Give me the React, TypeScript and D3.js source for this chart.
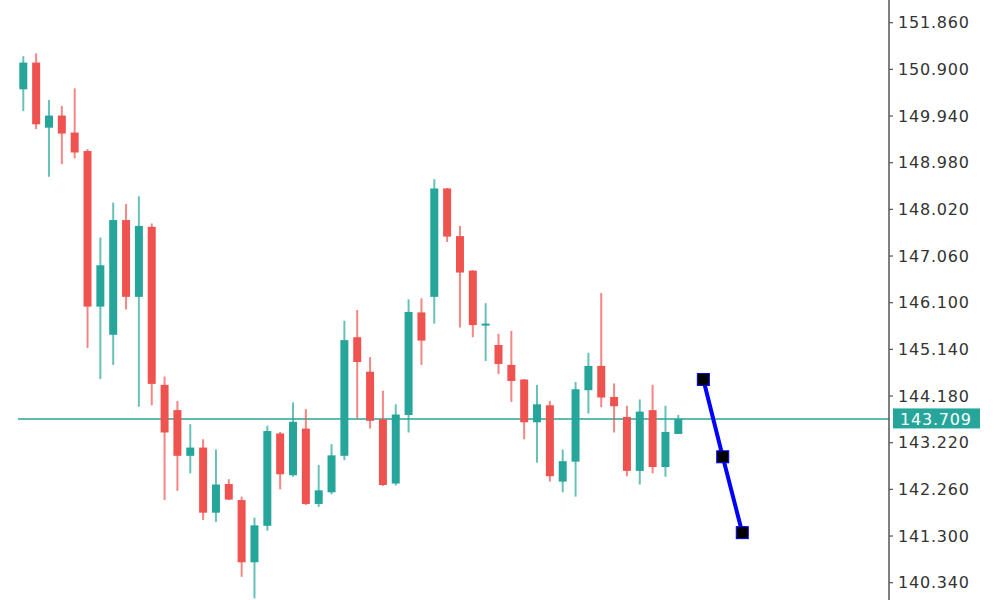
import React from "react";
import * as d3 from "d3";

const opens = [150.49, 151.04, 149.70, 149.95, 149.60, 149.22, 146.02, 145.44, 147.80, 146.22, 147.66, 144.41, 143.89, 142.95, 143.12, 141.78, 142.37, 142.04, 140.76, 141.51, 143.41, 142.55, 143.51, 141.96, 142.20, 142.95, 145.39, 144.68, 143.70, 142.38, 143.79, 145.90, 146.22, 148.45, 147.47, 146.76, 145.63, 145.23, 144.82, 144.52, 143.64, 143.99, 142.42, 142.83, 144.30, 144.80, 144.16, 143.75, 142.64, 143.89, 142.72, 143.40];
const closes = [151.04, 149.77, 149.95, 149.58, 149.19, 146.02, 146.87, 147.80, 146.22, 147.68, 144.43, 143.43, 142.95, 143.12, 141.78, 142.36, 142.05, 140.76, 141.52, 143.46, 142.57, 143.65, 141.96, 142.24, 142.96, 145.33, 144.88, 143.67, 142.35, 143.80, 145.91, 145.32, 148.45, 147.46, 146.72, 145.64, 145.67, 144.84, 144.49, 143.64, 144.01, 142.53, 142.84, 144.32, 144.80, 144.15, 143.97, 142.64, 143.86, 142.72, 143.44, 143.709];
const highs = [151.17, 151.23, 150.27, 150.15, 150.51, 149.26, 147.44, 148.16, 148.13, 148.29, 147.73, 144.58, 144.08, 143.60, 143.29, 143.08, 142.47, 142.11, 141.68, 143.57, 143.44, 144.05, 143.91, 142.76, 143.19, 145.73, 145.95, 144.98, 144.29, 144.01, 146.17, 146.19, 148.64, 148.46, 147.68, 146.77, 146.09, 145.46, 145.52, 144.53, 144.41, 144.08, 143.08, 144.47, 145.07, 146.30, 144.44, 143.98, 144.11, 144.41, 143.98, 143.79];
const lows = [150.04, 149.67, 148.69, 148.95, 149.07, 145.17, 144.53, 144.82, 145.96, 143.96, 143.99, 142.04, 142.23, 142.59, 141.63, 141.59, 142.04, 140.46, 140.02, 141.41, 142.26, 142.52, 141.94, 141.90, 142.16, 142.86, 143.72, 143.51, 142.33, 142.34, 143.43, 144.82, 145.67, 147.35, 145.59, 145.39, 144.90, 144.63, 144.06, 143.29, 142.81, 142.42, 142.20, 142.11, 143.82, 143.95, 143.43, 142.53, 142.36, 142.59, 142.52, 143.40];

const forecastIdx = [52.95, 54.46, 55.98];
const forecastVals = [144.52, 142.93, 141.37];

const tickValues = [151.86, 150.9, 149.94, 148.98, 148.02, 147.06, 146.1, 145.14, 144.18, 143.22, 142.26, 141.3, 140.34];
const lastPrice = 143.709;

const UP = "#26a69a";
const DOWN = "#ef5350";

export default function App() {
  const W = 1000, H = 600;
  const axisX = 889;
  const x = d3.scaleLinear().domain([0, 51]).range([23.3, 678.3]);
  const y = d3.scaleLinear().domain([140.34, 151.86]).range([582.7, 22.7]);
  const bw = 8;
  const line = d3.line<number>().x((_, i) => x(forecastIdx[i])).y((d) => y(d));
  const ly = y(lastPrice);
  return (
    <svg width={W} height={H} style={{ position: "absolute", left: 0, top: 0, background: "#fff" }}
      fontFamily="DejaVu Sans, Verdana, sans-serif">
      <line x1={18} x2={axisX} y1={ly} y2={ly} stroke={UP} strokeWidth={1.5} />
      {opens.map((o, i) => {
        const c = closes[i];
        const up = c >= o;
        const col = up ? UP : DOWN;
        const top = y(Math.max(o, c));
        const bot = y(Math.min(o, c));
        const cx = x(i);
        return (
          <g key={i}>
            <line x1={cx} x2={cx} y1={y(highs[i])} y2={y(lows[i])} stroke={col} strokeOpacity={0.7} strokeWidth={2} />
            <rect x={cx - bw / 2} y={top} width={bw} height={Math.max(2, bot - top)} fill={col} />
          </g>
        );
      })}
      <path d={line(forecastVals) || ""} fill="none" stroke="#0000ff" strokeWidth={4} />
      {forecastVals.map((v, i) => (
        <rect key={i} x={x(forecastIdx[i]) - 6} y={y(v) - 6} width={12} height={12} fill="#000" stroke="#0000ff" strokeWidth={1} />
      ))}
      <line x1={axisX} x2={axisX} y1={0} y2={H} stroke="#555" strokeWidth={1.5} />
      {tickValues.map((t) => (
        <g key={t} transform={`translate(${axisX},${y(t)})`}>
          <line x1={0} x2={4} stroke="#555" strokeWidth={1.2} />
          <text x={9} dy="0.35em" fontSize={16} letterSpacing={0.8} fill="#333">{t.toFixed(3)}</text>
        </g>
      ))}
      <rect x={893} y={ly - 10.5} width={87} height={20} fill={UP} />
      <text x={900} y={ly} dy="0.35em" fontSize={16} letterSpacing={0.8} fill="#fff">{lastPrice.toFixed(3)}</text>
    </svg>
  );
}
